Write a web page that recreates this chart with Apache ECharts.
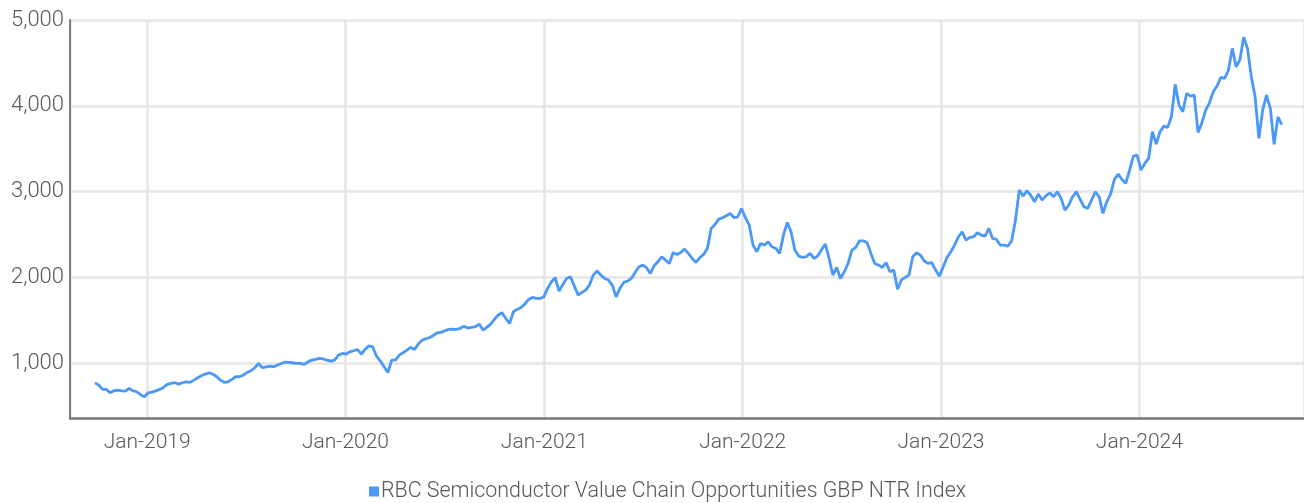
<!DOCTYPE html>
<html>
<head>
<meta charset="utf-8">
<script src="https://cdn.jsdelivr.net/npm/echarts@6/dist/echarts.min.js"></script>
<style>
  html, body { margin: 0; padding: 0; background: #fff; }
  #chart { width: 1304px; height: 503px; }
</style>
</head>
<body>
<div id="chart"></div>
<script>
// Weekly index closes, first observation and weekly step
const seriesName = 'RBC Semiconductor Value Chain Opportunities GBP NTR Index';
const startDate = '2018-09-27';
const stepDays = 7;
const indexValues = [
  770, 743, 693, 693, 654, 677, 685, 677, 673, 705,
  677, 666, 631, 607, 654, 662, 677, 693, 716, 751,
  763, 771, 755, 771, 782, 775, 802, 829, 852, 872,
  887, 872, 841, 802, 775, 782, 810, 841, 841, 860,
  891, 911, 946, 996, 946, 957, 965, 957, 977, 996,
  1012, 1008, 1004, 996, 996, 985, 1015, 1035, 1043, 1054,
  1050, 1035,
  1023, 1035, 1093, 1113, 1105, 1132, 1144, 1159, 1105, 1159,
  1202, 1190, 1081, 1027, 957, 890, 1035, 1035, 1093, 1120,
  1151, 1183, 1159, 1221, 1268, 1284, 1299, 1323, 1354, 1358,
  1377, 1393, 1396, 1393, 1404, 1431, 1408, 1416, 1424, 1455,
  1385, 1416, 1455, 1509, 1560, 1587, 1521, 1462, 1599, 1626,
  1649, 1688, 1742, 1766, 1754, 1754, 1773, 1871, 1948, 1995,
  1840, 1917, 1987, 2007, 1902, 1793, 1824, 1851, 1910, 2026,
  2073, 2026, 1987, 1968, 1910, 1773, 1871, 1941, 1956, 1987,
  2057, 2123, 2143, 2112, 2046, 2135, 2182, 2240, 2201, 2162,
  2290, 2267, 2290, 2329, 2279, 2220, 2174, 2228, 2267, 2337,
  2570, 2617, 2679, 2695, 2718, 2745, 2695, 2706, 2803, 2695,
  2609, 2376, 2298, 2395, 2376, 2415, 2356, 2337, 2279, 2492,
  2640,
  2531, 2318, 2248, 2232, 2240, 2279, 2220, 2248, 2318, 2388,
  2220, 2026, 2115, 1987, 2065, 2162, 2318, 2349, 2426, 2426,
  2403, 2279, 2162, 2143, 2115, 2170, 2065, 2084, 1860, 1968,
  1999, 2026, 2240, 2287, 2259, 2193, 2162, 2170, 2084, 2014,
  2123, 2232, 2298, 2376, 2473, 2531, 2434, 2465, 2473, 2520,
  2493, 2481, 2570, 2454, 2442, 2376, 2376, 2364, 2426, 2667,
  3017, 2947, 3009, 2959, 2881, 2971, 2901,
  2950, 2986, 2939, 2998, 2920, 2784, 2842, 2939, 2998, 2908,
  2823, 2803, 2900, 2998, 2939, 2745, 2881, 2970, 3141, 3204,
  3141, 3095, 3250, 3413, 3425, 3250, 3328, 3386, 3697, 3553,
  3697, 3763, 3748, 3872, 4250, 4008, 3930, 4144, 4113, 4125,
  3690, 3800, 3950, 4035, 4164, 4230, 4331, 4319, 4416, 4669,
  4455, 4533, 4800, 4669, 4339, 4105, 3620, 3950, 4125, 3970,
  3550, 3870, 3780
];
const axisStart = '2018-08-12';
const axisEnd = '2024-10-30';
const yMin = 360;
const yMax = 5000;

const DAY = 24 * 3600 * 1000;
const t0 = new Date(startDate + 'T00:00:00').getTime();
const points = indexValues.map((v, i) => [t0 + i * stepDays * DAY, v]);

const FONT = 'Roboto, "Liberation Sans", sans-serif';
const TEXT_COLOR = '#585858';
const chart = echarts.init(document.getElementById('chart'), null, { renderer: 'canvas' });

chart.setOption({
  animation: false,
  backgroundColor: '#ffffff',
  color: ['#4a98f7'],
  grid: { left: 70, right: 0, top: 20, bottom: 85, containLabel: false },
  legend: {
    data: [seriesName],
    top: 476,
    left: 364,
    icon: 'rect',
    itemWidth: 10,
    itemHeight: 10,
    textStyle: { fontFamily: FONT, fontWeight: 300, fontSize: 21.4, color: TEXT_COLOR, padding: [0, 0, 0, -3] }
  },
  xAxis: {
    type: 'time',
    min: new Date(axisStart + 'T00:00:00').getTime(),
    max: new Date(axisEnd + 'T00:00:00').getTime(),
    splitNumber: 6,
    axisLine: { show: true, lineStyle: { color: '#7a7a7a', width: 2.5 } },
    axisTick: { show: false },
    axisLabel: {
      margin: 14,
      fontFamily: FONT,
      fontWeight: 300,
      fontSize: 21,
      color: TEXT_COLOR,
      showMinLabel: false,
      showMaxLabel: false,
      formatter: function (v) {
        const d = new Date(v);
        return (d.getMonth() === 0 && d.getDate() === 1) ? 'Jan-' + d.getFullYear() : '';
      }
    },
    splitLine: { show: true, lineStyle: { color: '#e6e6e6', width: 2.5 } }
  },
  yAxis: {
    type: 'value',
    min: yMin,
    max: yMax,
    splitNumber: 5,
    axisLine: { show: true, lineStyle: { color: '#7f7f7f', width: 2 } },
    axisTick: { show: false },
    axisLabel: {
      margin: 6,
      fontFamily: FONT,
      fontWeight: 300,
      fontSize: 22,
      color: TEXT_COLOR,
      showMinLabel: false,
      formatter: function (v) { return v.toLocaleString('en-US'); }
    },
    splitLine: { show: true, lineStyle: { color: '#e6e6e6', width: 2.5 } }
  },
  series: [{
    name: seriesName,
    type: 'line',
    data: points,
    showSymbol: false,
    lineStyle: { width: 2.8, color: '#4a98f7' },
    itemStyle: { color: '#4a98f7' }
  }]
});
</script>
</body>
</html>
